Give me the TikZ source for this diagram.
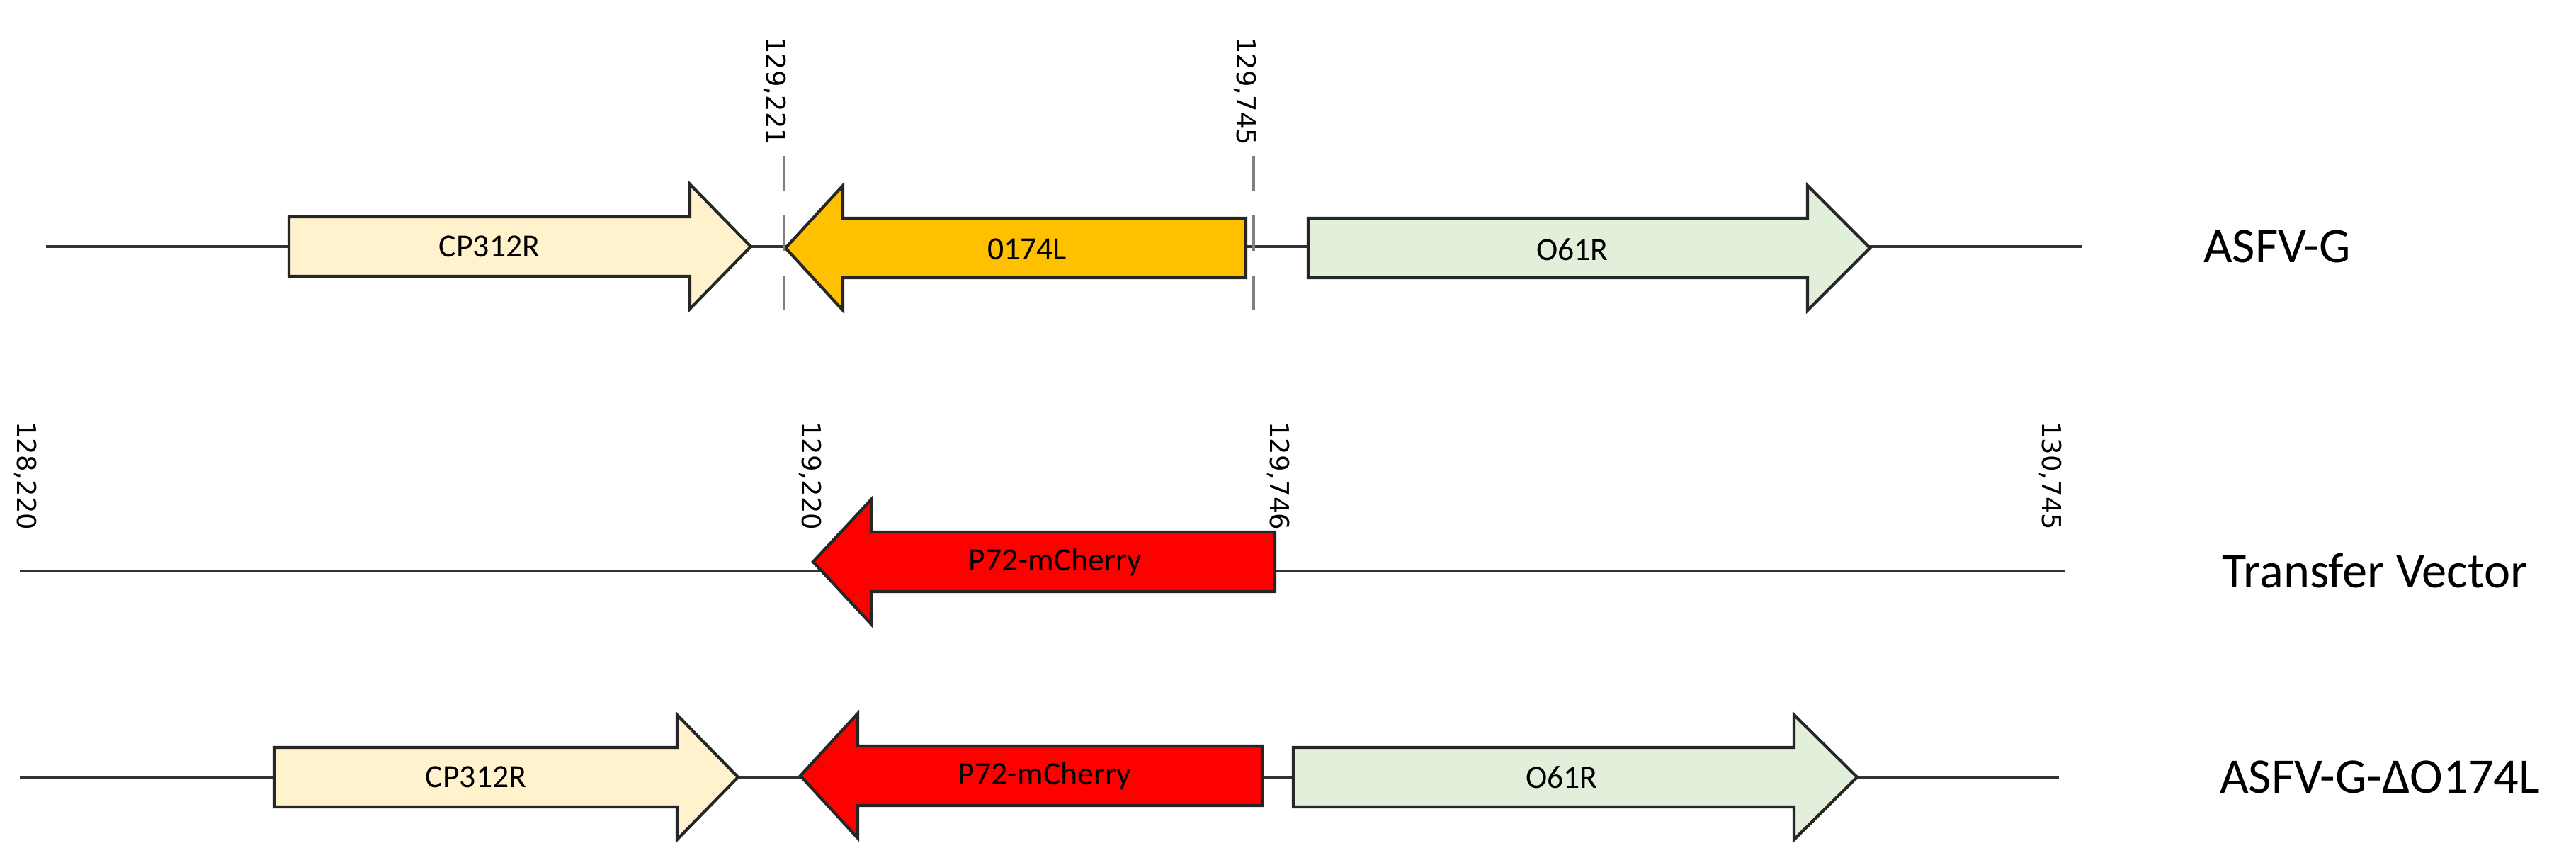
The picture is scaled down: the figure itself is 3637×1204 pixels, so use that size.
\documentclass[tikz,border=0pt]{standalone}
\usepackage{fontspec}
\setmainfont{Carlito}
\newfontfamily\numfont{DejaVu Sans}
\definecolor{cream}{HTML}{FFF2CC}
\definecolor{gold}{HTML}{FFC000}
\definecolor{mint}{HTML}{E2EFDA}
\begin{document}
\begin{tikzpicture}[x=0.01cm,y=-0.01cm,
  gene/.style={draw=black!85,line width=1.2pt},
  axis/.style={draw=black!80,line width=0.9pt},
  glab/.style={font=\fontsize{13}{15}\selectfont},
  rlab/.style={font=\fontsize{20}{24}\selectfont},
  num/.style={font=\numfont\fontsize{10.5}{12}\selectfont,rotate=-90,anchor=west},
  gdash/.style={draw=black!50,line width=1.3pt,dash pattern=on 14pt off 10pt}]
\useasboundingbox (0,0) rectangle (3637,1204);
\newcommand\garr[5]{\fill[#5] (#1,#4-42)--(#2,#4-42)--(#2,#4-88)--(#3,#4)--(#2,#4+88)--(#2,#4+42)--(#1,#4+42)--cycle;
 \draw[gene] (#1,#4-42)--(#2,#4-42)--(#2,#4-88)--(#3,#4)--(#2,#4+88)--(#2,#4+42)--(#1,#4+42)--cycle;}
% Row 1
\draw[axis] (65,348) -- (2940,348);
\garr{408}{974}{1060}{348}{cream}
\garr{1759}{1190}{1109}{350}{gold}
\garr{1847}{2552}{2640}{350}{mint}
\node[glab] (cp1) at (691,348) {CP312R};
\node[glab] (o174) at (1450,352) {0174L};
\node[glab] (o61a) at (2220,352) {O61R};
\draw[gdash] (1107,220) -- (1107,442);
\draw[gdash] (1770,220) -- (1770,442);
\node[num] (n1) at (1094,40) {129,221};
\node[num] (n2) at (1758,40) {129,745};
\node[rlab] (l1) at (3215,348) {ASFV-G};
% Row 2
\draw[axis] (28,806) -- (2916,806);
\garr{1800}{1230}{1148}{793}{red}
\node[glab] (p1) at (1490,793) {P72-mCherry};
\node[num] (n3) at (36,583) {128,220};
\node[num] (n4) at (1144,583) {129,220};
\node[num] (n5) at (1805,583) {129,746};
\node[num] (n6) at (2895,583) {130,745};
\node[rlab] (l2) at (3353,806) {Transfer Vector};
% Row 3
\draw[axis] (28,1097) -- (2907,1097);
\garr{387}{956}{1042}{1097}{cream}
\garr{1782}{1211}{1130}{1095}{red}
\garr{1826}{2533}{2622}{1097}{mint}
\node[glab] (cp2) at (672,1097) {CP312R};
\node[glab] (p2) at (1475,1095) {P72-mCherry};
\node[glab] (o61b) at (2205,1097) {O61R};
\node[rlab] (l3) at (3360,1097) {ASFV-G-ΔO174L};
\end{tikzpicture}
\end{document}
